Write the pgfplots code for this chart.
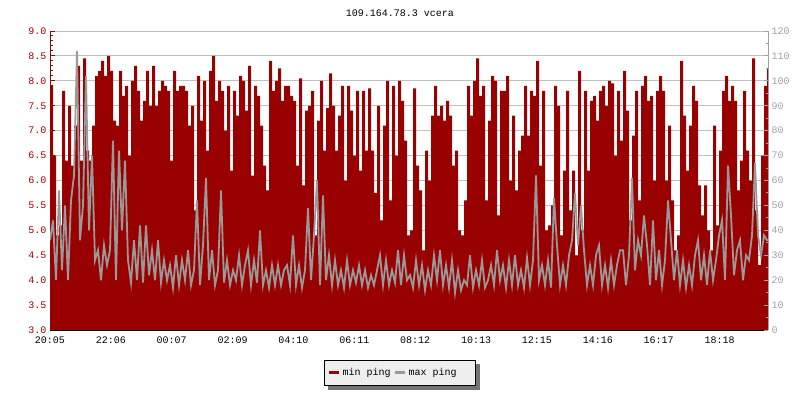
\documentclass[border=0pt]{standalone}
\usepackage{fontspec}
\setmainfont{Liberation Mono}
\usepackage{pgfplots}
\usepackage{pgfplotstable}
\pgfplotsset{compat=1.18}

\definecolor{minred}{HTML}{990000}
\definecolor{maxgray}{HTML}{999999}
\definecolor{gridgray}{HTML}{C0C0C0}
\definecolor{labgray}{HTML}{A0A0A0}
\definecolor{legbg}{HTML}{EEEEEE}

\pgfdeclarelayer{background}
\pgfsetlayers{background,main}

% one value per 3px column, 20:05 -> ~19:55
\pgfplotstableread[row sep=\\]{v\\
7.9\\6.5\\4.9\\5.1\\7.8\\6.4\\7.5\\6.3\\7.1\\8.3\\6.4\\8.45\\6.6\\6.4\\7.1\\8.1\\8.2\\8.4\\8.1\\8.5\\
8.2\\7.2\\7.1\\8.2\\7.7\\7.9\\6.5\\8.0\\8.3\\7.8\\7.2\\7.6\\8.2\\7.5\\8.3\\7.5\\7.8\\8.0\\7.9\\7.8\\
6.4\\8.2\\7.8\\7.9\\7.9\\7.8\\7.1\\7.5\\5.4\\8.1\\7.2\\8.0\\6.6\\8.2\\8.5\\7.6\\8.0\\7.8\\7.0\\7.9\\
6.2\\7.8\\7.3\\8.1\\8.0\\7.4\\8.3\\6.1\\7.9\\7.7\\7.1\\6.3\\5.8\\8.4\\7.8\\8.0\\8.25\\7.6\\7.9\\7.9\\
7.7\\7.6\\6.3\\8.05\\5.9\\7.4\\7.5\\7.8\\4.9\\7.2\\8.0\\6.6\\7.45\\8.15\\7.5\\6.6\\7.3\\7.9\\6.0\\7.9\\
7.4\\6.5\\7.8\\6.2\\7.8\\6.6\\7.85\\6.6\\5.75\\7.5\\5.2\\7.1\\8.0\\5.6\\7.9\\6.5\\8.0\\7.6\\6.8\\4.9\\
5.0\\7.85\\6.3\\5.8\\4.6\\6.6\\6.0\\7.3\\7.9\\7.3\\7.5\\7.2\\7.6\\7.3\\6.3\\6.6\\5.0\\4.9\\5.6\\7.9\\
7.3\\8.0\\8.45\\7.7\\7.9\\5.6\\7.2\\8.1\\8.0\\5.3\\7.8\\7.8\\8.1\\6.0\\7.3\\5.8\\6.6\\6.9\\7.9\\6.9\\
7.8\\7.7\\8.4\\6.3\\7.8\\5.0\\5.1\\5.5\\7.9\\7.5\\4.9\\6.2\\7.8\\5.4\\6.2\\4.5\\8.2\\5.0\\7.8\\6.2\\
7.6\\7.7\\7.2\\7.8\\7.9\\7.5\\8.0\\7.95\\6.5\\7.8\\6.8\\8.2\\7.4\\5.2\\6.9\\7.8\\5.6\\7.9\\8.1\\7.6\\
7.7\\6.0\\7.8\\8.1\\7.8\\6.0\\7.1\\5.6\\4.6\\4.9\\8.4\\7.3\\6.2\\7.1\\7.9\\7.6\\5.9\\5.3\\5.9\\5.0\\
4.6\\7.1\\5.1\\6.6\\7.8\\8.1\\7.6\\7.9\\7.6\\5.8\\6.4\\7.8\\6.6\\6.0\\8.45\\5.4\\4.3\\6.5\\7.9\\8.25\\
8.25\\
}\minping

\pgfplotstableread[row sep=\\]{v\\
4.8\\5.2\\4.0\\5.8\\4.2\\5.5\\4.0\\5.6\\6.1\\8.6\\4.8\\5.5\\8.1\\5.0\\6.5\\4.4\\4.6\\4.0\\4.7\\4.3\\
4.6\\6.8\\4.0\\6.6\\5.0\\6.4\\4.4\\3.95\\4.8\\4.0\\5.1\\3.95\\5.1\\4.1\\4.6\\4.0\\4.8\\3.95\\4.4\\4.0\\
4.3\\3.85\\4.5\\3.9\\4.4\\4.0\\4.6\\3.9\\4.2\\5.6\\3.9\\4.7\\6.05\\4.0\\4.6\\3.9\\4.2\\5.8\\3.95\\4.4\\
3.9\\4.2\\4.0\\4.5\\3.9\\4.3\\4.6\\3.9\\4.4\\3.95\\5.0\\3.9\\4.2\\3.85\\4.3\\3.9\\4.3\\3.9\\4.2\\4.3\\
3.9\\4.9\\3.9\\4.3\\3.85\\4.2\\5.45\\4.0\\4.9\\6.0\\3.9\\5.7\\4.0\\4.5\\3.9\\4.4\\3.9\\4.2\\3.85\\4.4\\
3.9\\4.2\\3.95\\4.3\\3.9\\4.2\\3.85\\4.1\\3.9\\4.2\\4.5\\3.9\\4.4\\3.9\\4.2\\3.95\\4.6\\3.9\\4.5\\4.0\\
4.1\\3.85\\4.4\\3.9\\4.3\\3.8\\4.2\\3.9\\4.5\\4.0\\4.6\\3.9\\4.3\\3.85\\4.4\\3.75\\4.2\\3.8\\4.0\\3.9\\
4.5\\3.85\\4.2\\3.9\\4.4\\3.85\\4.0\\4.3\\3.9\\4.6\\4.0\\4.3\\3.85\\4.4\\3.9\\4.5\\3.9\\4.2\\3.85\\4.45\\
3.9\\4.4\\6.1\\4.0\\4.3\\3.9\\4.4\\3.85\\5.65\\4.7\\3.9\\4.3\\3.9\\4.5\\4.8\\5.75\\4.7\\5.5\\4.6\\3.9\\
4.3\\3.9\\4.5\\4.7\\3.9\\4.3\\3.85\\4.4\\3.9\\4.3\\4.6\\4.6\\3.9\\4.5\\6.05\\4.2\\4.8\\4.5\\5.3\\4.7\\
3.9\\5.2\\4.0\\4.6\\3.9\\4.4\\5.6\\4.8\\4.0\\4.6\\3.9\\4.4\\3.85\\4.3\\3.9\\4.5\\4.8\\4.0\\4.5\\3.9\\
4.6\\4.0\\4.4\\4.9\\5.2\\4.0\\6.3\\5.3\\4.1\\4.6\\4.8\\4.0\\4.5\\4.4\\4.9\\6.35\\4.9\\4.5\\4.9\\4.8\\
4.8\\
}\maxping

\begin{document}
\begin{tikzpicture}
\path[use as bounding box] (0pt,0pt) rectangle (800pt,400pt);
\begin{axis}[
    at={(50pt,70pt)}, anchor=south west,
    scale only axis, width=718pt, height=299pt,
    xmin=0, xmax=239.33, ymin=3, ymax=9,
    axis x line*=bottom, axis y line*=left,
    x axis line style={black, line width=1pt, -},
    y axis line style={minred, line width=1pt, -},
    tick align=inside,
    major tick length=5pt, minor tick length=2.5pt,
    xtick={0,20.29,40.58,60.87,81.16,101.45,121.74,142.03,162.32,182.61,202.9,223.19},
    xticklabels={20:05,22:06,00:07,02:09,04:10,06:11,08:12,10:13,12:15,14:16,16:17,18:18},
    xtick style={black, line width=1pt},
    ytick={3,3.5,4,4.5,5,5.5,6,6.5,7,7.5,8,8.5,9},
    yticklabels={3.0,3.5,4.0,4.5,5.0,5.5,6.0,6.5,7.0,7.5,8.0,8.5,9.0},
    minor y tick num=4,
    ytick style={minred, line width=1pt},
    ymajorgrids, major grid style={gridgray, line width=1pt},
    ticklabel style={font=\fontsize{10}{12}\selectfont},
    yticklabel style={minred},
    xticklabel style={black, yshift=-3pt},
    legend image code/.code={\draw[#1] (0pt,0pt) -- (10pt,0pt);},
    legend columns=2,
    legend style={name=leg, at={(0.4875,-0.1)}, anchor=north, draw=black, line width=1pt,
        fill=legbg, font=\fontsize{10}{12}\selectfont, inner xsep=3pt, inner ysep=6pt,
        /tikz/every even column/.append style={column sep=1pt}},
]
\addplot[const plot mark left, fill=minred, draw=none, forget plot]
    table[x expr=\coordindex, y=v]{\minping} \closedcycle;
\addplot[sharp plot, maxgray, line width=1.8pt, forget plot]
    table[x expr=\coordindex, y=v]{\maxping};
\addlegendimage{minred, line width=3pt}
\addlegendentry{min ping}
\addlegendimage{maxgray, line width=3pt}
\addlegendentry{\makebox[62pt][l]{max ping}}
\end{axis}
\begin{axis}[
    at={(50pt,70pt)}, anchor=south west,
    scale only axis, width=718pt, height=299pt,
    xmin=0, xmax=239.33, ymin=0, ymax=120,
    axis x line=none, axis y line*=right,
    y axis line style={labgray, line width=1pt, -},
    tick align=inside,
    major tick length=4pt, minor tick length=2.5pt,
    ytick={0,10,20,30,40,50,60,70,80,90,100,110,120},
    yticklabels={0,10,20,30,40,50,60,70,80,90,100,110,120},
    minor y tick num=1,
    ytick style={labgray, line width=1pt},
    yticklabel style={labgray, font=\fontsize{10}{12}\selectfont, anchor=west},
]
\end{axis}
\begin{pgfonlayer}{background}
\fill[black!55] ([xshift=4pt,yshift=-4pt]leg.south west) rectangle ([xshift=4pt,yshift=-4pt]leg.north east);
\end{pgfonlayer}
\node[font=\fontsize{10}{12}\selectfont] at (400pt,387pt) {109.164.78.3 vcera};
\end{tikzpicture}
\end{document}
